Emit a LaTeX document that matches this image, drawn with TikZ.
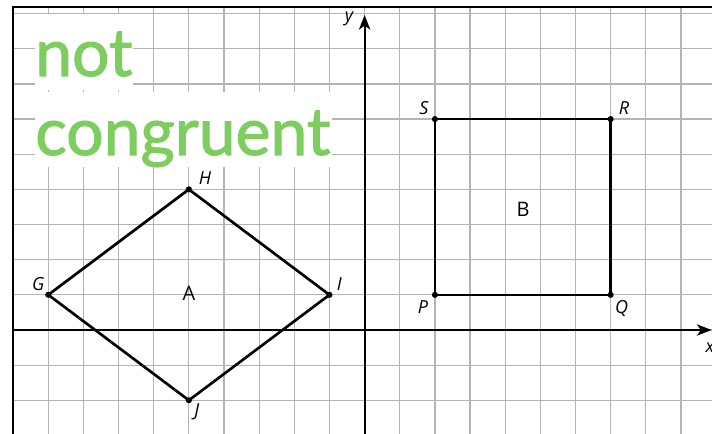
\documentclass[tikz,border=0pt]{standalone}
\usepackage{fontspec}
\setmainfont{Open Sans}
\newfontfamily\latofont[FakeBold=1.6]{Lato}
\usetikzlibrary{arrows.meta}
\definecolor{ngreen}{RGB}{125,206,95}
\definecolor{gridgray}{RGB}{180,180,180}
\begin{document}
\begin{tikzpicture}[x=26.3625pt,y=26.3625pt,
  gridline/.style={draw=gridgray,line width=0.95pt},
  axis/.style={line width=1.4pt,-{Stealth[length=11pt,width=8.5pt,inset=3pt]}},
  figline/.style={line width=2pt,line join=miter},
  framel/.style={line width=1.8pt},
  dotmark/.style={fill=black},
  vlabel/.style={font=\fontsize{13.5}{14}\selectfont\itshape,inner sep=0pt},
  rlabel/.style={font=\fontsize{15}{16}\selectfont,inner sep=0pt},
  whitebox/.style={fill=white,draw=none},
  bigtext/.style={font=\latofont\fontsize{49.5}{50}\selectfont,text=ngreen,anchor=base west,inner sep=0pt}]
\useasboundingbox (-10.373,-2.959) rectangle (9.883,9.388);
\clip (-10.373,-2.959) rectangle (9.883,9.388);
\fill[white] (-10.373,-2.959) rectangle (9.883,9.388);
% grid
\foreach \x in {-10,...,9} \draw[gridline] (\x,-2.959) -- (\x,9.189);
\foreach \y in {-2,...,9} \draw[gridline] (-10,\y) -- (9.883,\y);
% text boxes
\fill[whitebox] (-9.377,6.828) rectangle (-6.589,8.990);
\fill[whitebox] (-9.377,4.637) rectangle (-0.928,6.771);
\node[bigtext] (t1) at (-9.377,7.226) {not};
\node[bigtext] (t2) at (-9.377,4.979) {congruent};
% axes
\coordinate (xs) at (-10,0);
\coordinate (xe) at (9.87,0);
\coordinate (ys) at (0,-2.959);
\coordinate (ye) at (0,8.962);
\draw[axis] (xs) -- (xe);
\draw[axis] (ys) -- (ye);
\node[vlabel] (xl) at (9.826,-0.512) {x};
\node[vlabel] (yl) at (-0.444,8.848) {y};
% frame
\coordinate (f1) at (-10,-2.959);
\coordinate (f2) at (-10,9.189);
\coordinate (f3) at (9.883,9.189);
\draw[framel,line cap=rect] (f1) -- (f2) -- (f3);
% figure A
\coordinate (G) at (-9,1);
\coordinate (H) at (-5,4);
\coordinate (I) at (-1,1);
\coordinate (J) at (-5,-2);
\draw[figline] (G) -- (H) -- (I) -- (J) -- cycle;
\foreach \p in {G,H,I,J} \fill[dotmark] (\p) circle (2.3pt);
\node[vlabel] (lG) at (-9.283,1.309) {G};
\node[vlabel] (lH) at (-4.541,4.316) {H};
\node[vlabel] (lI) at (-0.720,1.309) {I};
\node[vlabel] (lJ) at (-4.777,-2.324) {J};
\node[rlabel] (lA) at (-5,1.05) {A};
% figure B
\coordinate (P) at (2,1);
\coordinate (Q) at (7,1);
\coordinate (R) at (7,6);
\coordinate (S) at (2,6);
\draw[figline] (P) -- (Q) -- (R) -- (S) -- cycle;
\foreach \p in {P,Q,R,S} \fill[dotmark] (\p) circle (2.3pt);
\node[vlabel] (lP) at (1.661,0.654) {P};
\node[vlabel] (lQ) at (7.314,0.617) {Q};
\node[vlabel] (lR) at (7.379,6.307) {R};
\node[vlabel] (lS) at (1.690,6.307) {S};
\node[rlabel] (lB) at (4.506,3.43) {B};
\end{tikzpicture}
\end{document}
